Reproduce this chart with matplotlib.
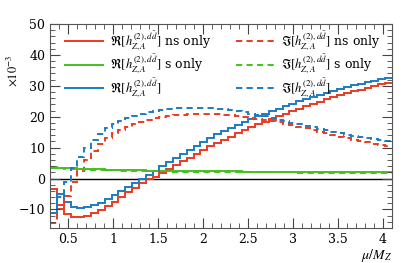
import numpy as np
import matplotlib
matplotlib.use("Agg")
import matplotlib.pyplot as plt
from matplotlib.lines import Line2D

plt.rcParams['font.family'] = ['DejaVu Serif']
plt.rcParams['mathtext.fontset'] = 'stix'

# bin edges in mu/M_Z
mu_lo, mu_hi, nbins = 0.3, 4.1, 50

re_ns = [-3.3, -8.5, -11.5, -12.3, -12.3, -12.0, -11.2, -10.3, -9.0, -7.6,
         -6.0, -4.4, -3.0, -1.6, -0.3, 0.6, 1.9, 3.1, 4.4, 5.6,
         6.8, 8.0, 9.2, 10.4, 11.5, 12.6, 13.6, 14.6, 15.6, 16.6,
         17.5, 18.4, 19.3, 20.1, 21.0, 21.8, 22.6, 23.4, 24.1, 24.9,
         25.6, 26.3, 27.0, 27.6, 28.2, 28.8, 29.4, 30.0, 30.5, 31.0]
re_s = [3.6, 3.5, 3.4, 3.3, 3.2, 3.1, 3.0, 2.95, 2.9, 2.85,
        2.8, 2.75, 2.7, 2.65, 2.6, 2.55, 2.5, 2.48, 2.46, 2.44,
        2.42, 2.4, 2.38, 2.36, 2.34, 2.32, 2.3, 2.28, 2.26, 2.24,
        2.22, 2.2, 2.19, 2.18, 2.17, 2.16, 2.15, 2.14, 2.13, 2.12,
        2.11, 2.1, 2.09, 2.08, 2.07, 2.06, 2.05, 2.04, 2.03, 2.02]
re_tot = [-11.0, -5.0, -7.5, -9.2, -9.4, -9.2, -8.6, -7.8, -6.7, -5.4,
          -4.0, -2.6, -1.3, 0.0, 1.3, 2.6, 3.9, 5.2, 6.5, 7.8,
          9.1, 10.4, 11.7, 13.0, 14.3, 15.4, 16.4, 17.4, 18.3, 19.2,
          20.1, 21.0, 21.8, 22.6, 23.4, 24.2, 25.0, 25.7, 26.4, 27.1,
          27.8, 28.4, 29.0, 29.6, 30.2, 30.7, 31.2, 31.7, 32.2, 32.6]
im_ns = [-14.5, -10.0, -5.5, -1.0, 2.5, 6.0, 9.0, 11.3, 13.2, 14.6,
         15.8, 16.8, 17.7, 18.4, 19.0, 19.5, 19.9, 20.3, 20.5, 20.7,
         20.8, 20.9, 20.9, 20.9, 20.8, 20.7, 20.5, 20.3, 20.0, 19.7,
         19.4, 19.0, 18.6, 18.2, 17.7, 17.2, 16.7, 16.2, 15.7, 15.1,
         14.6, 14.1, 13.6, 13.1, 12.6, 12.1, 11.7, 11.3, 10.9, 10.5]
im_s = [3.4, 3.3, 3.2, 3.1, 3.0, 2.9, 2.8, 2.75, 2.7, 2.65,
        2.6, 2.55, 2.5, 2.45, 2.4, 2.35, 2.3, 2.28, 2.26, 2.24,
        2.22, 2.2, 2.18, 2.16, 2.14, 2.12, 2.1, 2.08, 2.06, 2.04,
        2.02, 2.0, 1.99, 1.98, 1.97, 1.96, 1.95, 1.94, 1.93, 1.92,
        1.91, 1.9, 1.89, 1.88, 1.87, 1.86, 1.85, 1.84, 1.83, 1.82]
im_tot = [-11.0, -6.0, -1.0, 3.5, 7.0, 10.0, 12.5, 14.5, 16.2, 17.5,
          18.6, 19.5, 20.3, 20.9, 21.4, 21.8, 22.2, 22.5, 22.7, 22.8,
          22.9, 22.9, 22.9, 22.8, 22.6, 22.4, 22.1, 21.8, 21.4, 21.0,
          20.6, 20.1, 19.6, 19.1, 18.6, 18.1, 17.6, 17.1, 16.6, 16.1,
          15.6, 15.1, 14.6, 14.2, 13.8, 13.4, 13.0, 12.7, 12.4, 12.1]

xticks = [0.5, 1, 1.5, 2, 2.5, 3, 3.5, 4]
xticklabels = ['0.5', '1', '1.5', '2', '2.5', '3', '3.5', '4']
yticks = [-10, 0, 10, 20, 30, 40, 50]

RED = '#ec3a22'
GREEN = '#45c01e'
BLUE = '#1b7cc2'

lab = r'h^{(2),d\bar{d}}_{Z,A}'
labels = [r'$\Re[' + lab + r']$ ns only', r'$\Re[' + lab + r']$ s only', r'$\Re[' + lab + r']$',
          r'$\Im[' + lab + r']$ ns only', r'$\Im[' + lab + r']$ s only', r'$\Im[' + lab + r']$']

edges = np.linspace(mu_lo, mu_hi, nbins + 1)

fig = plt.figure(figsize=(4.05, 2.63), dpi=100)
ax = fig.add_axes([50/405, 1 - 228/263, (392-50)/405, (228-24)/263])

ax.axhline(0, color='black', lw=1.0, zorder=1)
lw = 1.4
dash = (0, (3.2, 2.2))
ax.stairs(re_ns, edges, baseline=None, color=RED, lw=lw)
ax.stairs(re_s, edges, baseline=None, color=GREEN, lw=lw)
ax.stairs(re_tot, edges, baseline=None, color=BLUE, lw=lw)
ax.stairs(im_ns, edges, baseline=None, color=RED, lw=lw, linestyle=dash)
ax.stairs(im_s, edges, baseline=None, color=GREEN, lw=lw, linestyle=dash)
ax.stairs(im_tot, edges, baseline=None, color=BLUE, lw=lw, linestyle=dash)

handles = [Line2D([], [], color=RED, lw=lw), Line2D([], [], color=GREEN, lw=lw),
           Line2D([], [], color=BLUE, lw=lw),
           Line2D([], [], color=RED, lw=lw, linestyle=dash),
           Line2D([], [], color=GREEN, lw=lw, linestyle=dash),
           Line2D([], [], color=BLUE, lw=lw, linestyle=dash)]
ax.legend(handles, labels, ncol=2, loc='upper left', bbox_to_anchor=(0.03, 1.0),
          frameon=False, fontsize=9, handlelength=3.0, handletextpad=0.6,
          columnspacing=2.0, labelspacing=0.0, borderaxespad=0.1, borderpad=0.3)

ax.set_xlim(mu_lo, mu_hi)
ax.set_ylim(-16, 50)
ax.set_xticks(xticks)
ax.set_xticklabels(xticklabels)
ax.set_yticks(yticks)
ax.set_xticks(np.arange(0.3, 4.11, 0.1), minor=True)
ax.set_yticks(np.arange(-16, 50.1, 2), minor=True)
ax.tick_params(which='both', direction='in', top=True, right=True, labelsize=9,
               colors='#444444', labelcolor='black')
ax.tick_params(which='major', length=7, width=0.8)
ax.tick_params(which='minor', length=3.5, width=0.6)
for s in ax.spines.values():
    s.set_color('#555555')
    s.set_linewidth(0.8)

ax.set_xlabel(r'$\mu/M_Z$', loc='right', fontsize=10, labelpad=1)
fig.text(0.03, 0.73, r'$\times10^{-3}$', rotation=90, fontsize=9, ha='center', va='center')

fig.savefig('out.png', dpi=100)
